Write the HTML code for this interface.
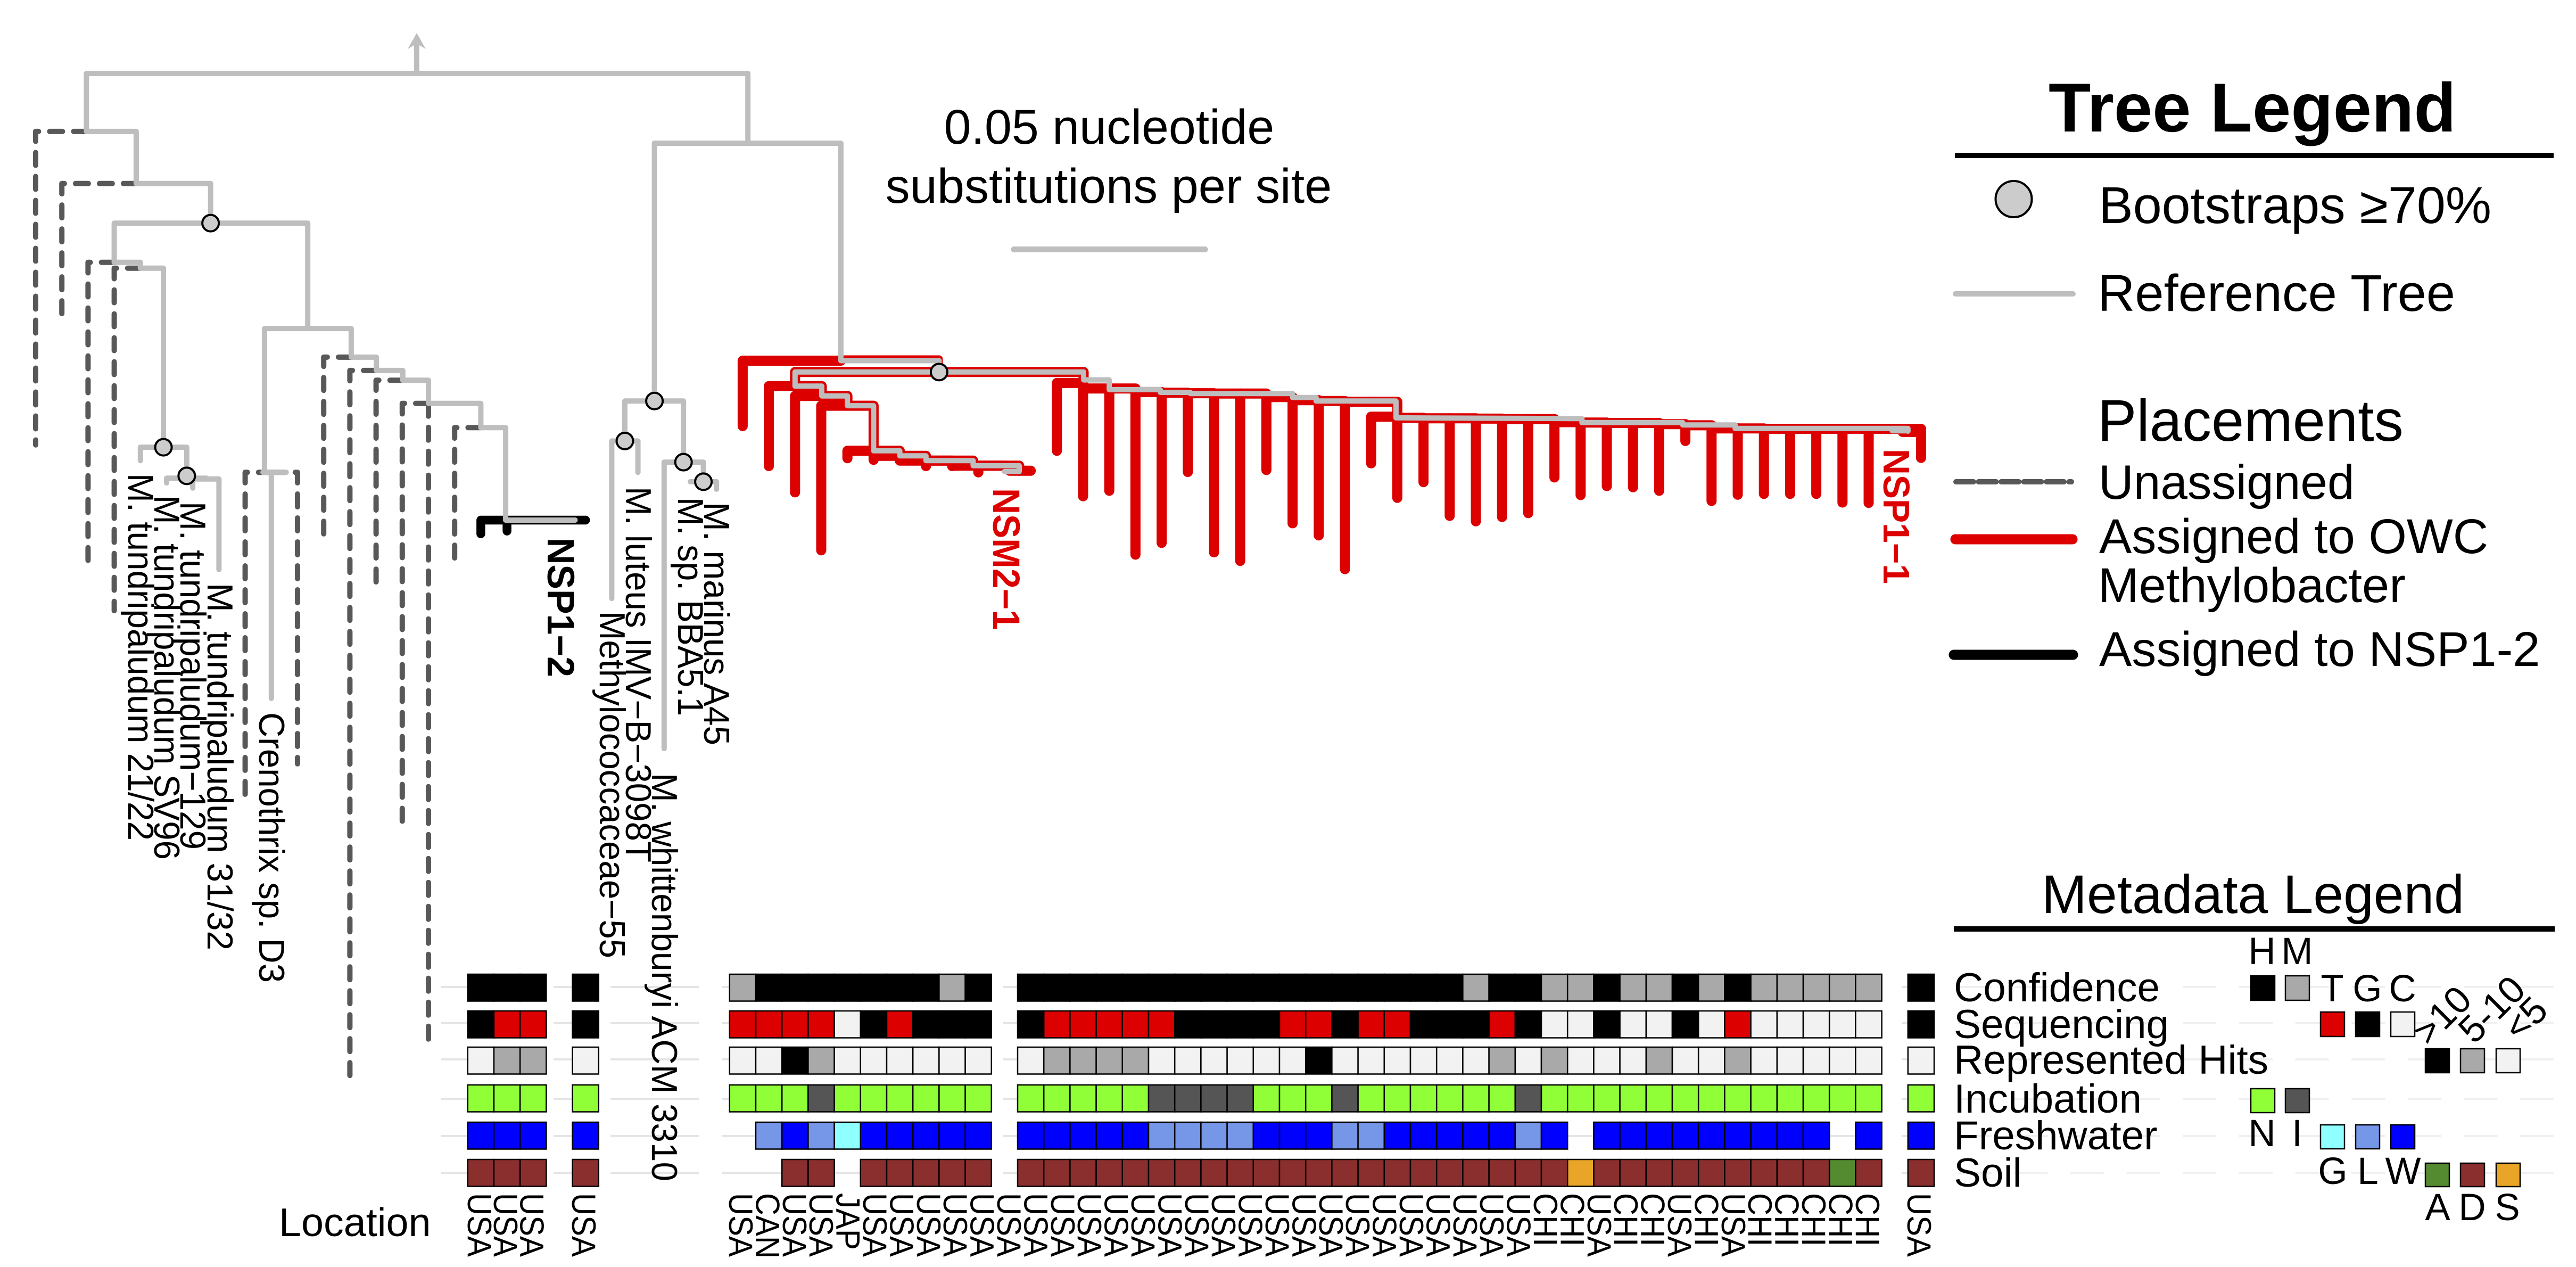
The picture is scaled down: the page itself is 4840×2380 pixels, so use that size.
<!DOCTYPE html>
<html lang="en">
<head>
<meta charset="utf-8">
<title>Phylogenetic placement tree with metadata</title>
<style>
html,body{margin:0;padding:0;background:#fff;width:4840px;height:2380px;overflow:hidden}
svg{display:block;font-family:"Liberation Sans",sans-serif}
text{fill:#000}
</style>
</head>
<body>
<svg id="chart" xmlns="http://www.w3.org/2000/svg" width="4840" height="2380" viewBox="0 0 4840 2380">
<rect x="0" y="0" width="4840" height="2380" fill="#ffffff"/>
<g id="grid-layer"></g>
<g id="tree-layer"></g>
<g id="meta-layer"></g>
<g id="location-layer"></g>

<g>
<text x="2084" y="270" font-size="91.5" text-anchor="middle">0.05 nucleotide</text>
<text x="2083" y="381" font-size="92" text-anchor="middle">substitutions per site</text>
<line x1="1905" y1="468.5" x2="2264" y2="468.5" stroke="#bebebe" stroke-width="11" stroke-linecap="round"/>
</g>

<g font-size="68">
<text transform="translate(241,889) rotate(90)" textLength="690" lengthAdjust="spacingAndGlyphs">M. tundripaludum 21/22</text>
<text transform="translate(290,930) rotate(90)" textLength="685" lengthAdjust="spacingAndGlyphs">M. tundripaludum SV96</text>
<text transform="translate(339,942) rotate(90)" textLength="654" lengthAdjust="spacingAndGlyphs">M. tundripaludum−129</text>
<text transform="translate(390,1095) rotate(90)" textLength="690" lengthAdjust="spacingAndGlyphs">M. tundripaludum 31/32</text>
<text transform="translate(487,1338) rotate(90)" textLength="508" lengthAdjust="spacingAndGlyphs">Crenothrix sp. D3</text>
<text transform="translate(1127,1148) rotate(90)" textLength="652" lengthAdjust="spacingAndGlyphs">Methylococcaceae−55</text>
<text transform="translate(1176,914) rotate(90)" textLength="706" lengthAdjust="spacingAndGlyphs">M. luteus IMV−B−3098T</text>
<text transform="translate(1225,1452) rotate(90)" textLength="767" lengthAdjust="spacingAndGlyphs">M. whittenburyi ACM 3310</text>
<text transform="translate(1274,934) rotate(90)" textLength="411" lengthAdjust="spacingAndGlyphs">M. sp. BBA5.1</text>
<text transform="translate(1323,943) rotate(90)" textLength="457" lengthAdjust="spacingAndGlyphs">M. marinus A45</text>
<text transform="translate(1029,1010) rotate(90)" font-size="71" font-weight="bold" textLength="262" lengthAdjust="spacingAndGlyphs">NSP1−2</text>
<text transform="translate(1866,917) rotate(90)" font-size="71" font-weight="bold" textLength="266" lengthAdjust="spacingAndGlyphs" style="fill:#dc0000">NSM2−1</text>
<text transform="translate(3539,843) rotate(90)" font-size="70" font-weight="bold" textLength="254" lengthAdjust="spacingAndGlyphs" style="fill:#dc0000">NSP1−1</text>
</g>

<text x="524" y="2322" font-size="75.5">Location</text>

<g font-size="76.5">
<text x="3671" y="1881">Confidence</text>
<text x="3671" y="1950">Sequencing</text>
<text x="3671" y="2017">Represented Hits</text>
<text x="3671" y="2090">Incubation</text>
<text x="3671" y="2159">Freshwater</text>
<text x="3671" y="2229">Soil</text>
</g>

<g>
<text x="3849" y="247" font-size="130" font-weight="bold">Tree Legend</text>
<line x1="3673" y1="292" x2="4798" y2="292" stroke="#000" stroke-width="10"/>
<circle cx="3783.5" cy="374" r="34" fill="#cccccc" stroke="#000" stroke-width="4"/>
<text x="3943" y="419" font-size="97">Bootstraps ≥70%</text>
<line x1="3674" y1="552" x2="3895" y2="552" stroke="#bebebe" stroke-width="10" stroke-linecap="round"/>
<text x="3941" y="584" font-size="97.5">Reference Tree</text>
<text x="3941" y="828" font-size="110">Placements</text>
<line x1="3675" y1="905" x2="3892" y2="905" stroke="#585858" stroke-width="10" stroke-linecap="round" stroke-dasharray="33 9.5"/>
<text x="3943" y="937" font-size="91">Unassigned</text>
<line x1="3674" y1="1013" x2="3894" y2="1013" stroke="#dc0000" stroke-width="19" stroke-linecap="round"/>
<text x="3944" y="1039" font-size="92">Assigned to OWC</text>
<text x="3942" y="1131" font-size="92">Methylobacter</text>
<line x1="3671" y1="1230" x2="3895" y2="1230" stroke="#000" stroke-width="19" stroke-linecap="round"/>
<text x="3944" y="1251" font-size="92">Assigned to NSP1-2</text>
</g>

<g>
<text x="3836" y="1715" font-size="102">Metadata Legend</text>
<rect x="3671" y="1740" width="1129" height="10" fill="#000"/>
<g stroke="#000" stroke-width="2.5">
<rect x="4229" y="1833" width="45" height="46" fill="#000000"/>
<rect x="4294" y="1833" width="45" height="46" fill="#a9a9a9"/>
<rect x="4360" y="1901" width="45" height="46" fill="#dc0000"/>
<rect x="4426" y="1901" width="45" height="46" fill="#000000"/>
<rect x="4492" y="1901" width="45" height="46" fill="#f2f2f2"/>
<rect x="4557" y="1970" width="45" height="45" fill="#000000"/>
<rect x="4623" y="1970" width="45" height="45" fill="#a9a9a9"/>
<rect x="4690" y="1970" width="45" height="45" fill="#f2f2f2"/>
<rect x="4229" y="2045" width="45" height="45" fill="#90ff38"/>
<rect x="4294" y="2045" width="45" height="45" fill="#555555"/>
<rect x="4360" y="2113" width="45" height="45" fill="#8fffff"/>
<rect x="4426" y="2113" width="45" height="45" fill="#7696e8"/>
<rect x="4492" y="2113" width="45" height="45" fill="#0000ff"/>
<rect x="4557" y="2185" width="45" height="44" fill="#548a30"/>
<rect x="4623" y="2185" width="45" height="44" fill="#8b2e2e"/>
<rect x="4690" y="2185" width="45" height="44" fill="#e8a528"/>
</g>
<g font-size="71" text-anchor="middle">
<text x="4250" y="1811">H</text>
<text x="4316" y="1811">M</text>
<text x="4382" y="1881">T</text>
<text x="4448" y="1881">G</text>
<text x="4514" y="1881">C</text>
<text x="4250" y="2153">N</text>
<text x="4316" y="2153">I</text>
<text x="4383" y="2224">G</text>
<text x="4449" y="2224">L</text>
<text x="4515" y="2224">W</text>
<text x="4580" y="2292">A</text>
<text x="4645" y="2292">D</text>
<text x="4711" y="2292">S</text>
<text transform="translate(4648,1882) rotate(-45)" text-anchor="end">&gt;10</text>
<text transform="translate(4749,1863) rotate(-45)" text-anchor="end">5-10</text>
<text transform="translate(4791,1902) rotate(-45)" text-anchor="end">&lt;5</text>
</g>
</g>
</svg>

<script>
// ---- chart data (tip rank = position along the tip axis, depth = 0.001 substitutions/site from root) ----
const referenceBranches = [
  [1.94,14.8, 1.94,0, 27.2,0, 27.2,17.8],
  [1.94,14.8, 3.84,14.8, 3.84,28.1, 6.68,28.1, 6.68,38.2],
  [3,48.2, 3,38.2, 10.39,38.2, 10.39,65.1],
  [3,48.2, 4,48.2, 4,49.7, 4.88,49.7, 4.88,95.4],
  [4,98.8, 4,95.4, 5.77,95.4, 5.77,102.7],
  [5,104.5, 5,103.3, 6.52,103.3],
  [6,105.8, 6,103.5, 7,103.5, 7,126.6],
  [8.74,101.8, 8.74,65.1, 12.05,65.1, 12.05,72.4, 13.01,72.4, 13.01,75.8, 14.02,75.8, 14.02,78.3, 15,78.3, 15,84.2, 17,84.2, 17,90.4, 17.95,90.4, 17.95,114, 20.6,114],
  [8.68,101.8, 9.57,101.8],
  [9,101.8, 9,159.5],
  [23.63,83.6, 23.63,17.8, 30.75,17.8, 30.75,73.3, 34.5,73.3, 34.5,76.2],
  [22.5,93.8, 22.5,83.6, 24.74,83.6, 24.74,99.2],
  [22,134, 22,93.8, 23,93.8, 23,101.8],
  [24,172.3, 24,99.2, 25.5,99.2, 25.5,104.2],
  [25,104.2, 26,104.2, 26,106.1]
];
const unassignedBranches = [
  [1.94,14.8, 0,14.8, 0,94.8],
  [3.84,28.1, 1,28.1, 1,62.2],
  [3,48.2, 2,48.2, 2,124.7],
  [4,49.7, 3,49.7, 3,137.1],
  [9,101.8, 8,101.8, 8,185.1],
  [9,101.8, 10,101.8, 10,176.2],
  [12.05,72.4, 11,72.4, 11,117.5],
  [13.01,75.8, 12,75.8, 12,257.1],
  [14.02,78.3, 13,78.3, 13,131.1],
  [15,84.2, 14,84.2, 14,191.2],
  [15,84.2, 15,246.6],
  [17,90.4, 16,90.4, 16,123.8]
];
const nspBranches = [
  [17,117.5, 17,114, 21,114],
  [18,116.8, 18,114]
];
const owcSpineBranches = [
  [27,90, 27,73.3, 30.75,73.3],
  [29,79.8, 29,76.2, 40.02,76.2, 40.02,78.2],
  [29,79.8, 30.02,79.8, 30.02,82.3, 31,82.3, 31,84.8, 32,84.8, 32,96.3, 33,96.3, 33,97.6, 34,97.6, 34,98.8, 35.8,98.8, 35.8,100.1, 37.56,100.1, 37.56,101.4],
  [37.2,101.4, 38,101.4],
  [51,83.8, 52,83.8, 52,87.9]
];
const owcTopEdge = [30.75,72.9, 34.5,72.9, 34.5,75.5];
const nsmTipRanks = [28,29,30,31,32,33,34,35,36];
const nsmTipDepths = [101.5,108.2,123.0,99.5,99.9,100.0,101.5,101.5,103.1];
const nsmTipAttach = [79.8,82.3,84.8,96.3,97.6,98.8,98.8,100.1,100.1];
const owcTipRanks = [39,40,41,42,43,44,45,46,47,48,49,50,51,52,53,54,55,56,57,58,59,60,61,62,63,64,65,66,67,68,69,70,72];
const owcTipDepths = [97.6,109.2,107.8,124.1,121.1,103.0,123.5,125.7,102.5,116.1,119.2,127.8,100.8,109.6,105.6,114.2,115.6,114.5,113.5,104.4,108.9,106.6,106.9,107.8,95.1,110.4,108.8,108.6,108.6,108.6,110.8,110.9,99.4];
const owcTipAttach = [79.0,80.4,80.4,81.3,81.5,81.6,81.7,81.7,82.6,83.4,83.6,83.8,87.6,87.9,88.0,88.0,88.1,88.2,88.2,89.0,89.1,89.2,89.2,89.5,89.8,90.6,90.6,90.7,90.7,90.7,90.7,90.7,91.5];
const referenceOverlay = [
  [29,79.8, 30.02,79.8, 30.02,82.3, 31,82.3, 31,84.8, 32,84.8, 32,96.3, 33,96.3, 33,97.6, 34,97.6, 34,98.8, 35.8,98.8, 35.8,100.1, 37.56,100.1, 37.56,101.4],
  [37,101.6, 37.56,101.6],
  [29,79.8, 29,76.2, 40.02,76.2, 40.02,78.2, 41,78.2, 41,80.7, 42.95,80.7, 42.95,81.4, 44.1,81.4, 44.1,81.7, 48,81.7, 48,82.7, 48.9,82.7, 48.9,83.6, 51.95,83.6, 51.95,87.9, 59.05,88.1, 59.05,89.1, 62.9,89.1, 62.9,89.7, 64.9,89.7, 64.9,90.6, 71.5,90.6, 71.5,91.3],
  [70.9,91.2, 71.5,91.2],
  [17.95,114, 20.6,114]
];
const bootstrapRanks = [6.68,4.88,5.77,23.63,22.5,24.74,25.5,34.5];
const bootstrapDepths = [38.2,95.4,102.7,83.6,93.8,99.2,104.2,76.2];

const metadataRanks = [17,18,19,21,27,28,29,30,31,32,33,34,35,36,38,39,40,41,42,43,44,45,46,47,48,49,50,51,52,53,54,55,56,57,58,59,60,61,62,63,64,65,66,67,68,69,70,72];
const confidenceValues = ['H','H','H','H','M','H','H','H','H','H','H','H','M','H','H','H','H','H','H','H','H','H','H','H','H','H','H','H','H','H','H','M','H','H','M','M','H','M','M','H','M','H','M','M','M','M','M','H'];
const sequencingValues = ['G','T','T','G','T','T','T','T','C','G','T','G','G','G','G','T','T','T','T','T','G','G','G','G','T','T','G','T','T','G','G','G','T','G','C','C','G','C','C','G','C','T','C','C','C','C','C','G'];
const hitsValues = ['S','M','M','S','S','S','H','M','S','S','S','S','S','S','S','M','M','M','M','S','S','S','S','S','S','H','S','S','S','S','S','S','M','S','M','S','S','S','M','S','S','M','S','S','S','S','S','S'];
const incubationValues = ['N','N','N','N','N','N','N','I','N','N','N','N','N','N','N','N','N','N','N','I','I','I','I','N','N','N','I','N','N','N','N','N','N','I','N','N','N','N','N','N','N','N','N','N','N','N','N','N'];
const freshwaterValues = ['W','W','W','W','','L','W','L','G','W','W','W','W','W','W','W','W','W','W','L','L','L','L','W','W','W','L','L','W','W','W','W','W','L','W','','W','W','W','W','W','W','W','W','W','','W','W'];
const soilValues = ['D','D','D','D','','','D','D','','D','D','D','D','D','D','D','D','D','D','D','D','D','D','D','D','D','D','D','D','D','D','D','D','D','D','S','D','D','D','D','D','D','D','D','D','A','D','D'];

const locationGroupA = ['USA','USA','USA'];
const locationGroupB = ['USA'];
const locationGroupC = ['USA','CAN','USA','USA','JAP','USA','USA','USA','USA','USA','USA','USA','USA','USA','USA','USA','USA','USA','USA','USA','USA','USA','USA','USA','USA','USA','USA','USA','USA','USA','CHI','CHI','USA','CHI','CHI','USA','CHI','USA','CHI','CHI','CHI','CHI','CHI'];
const locationGroupD = ['USA'];

// ---- colour scales ----
const confidenceColors = {H:'#000000', M:'#a9a9a9'};
const sequencingColors = {T:'#dc0000', G:'#000000', C:'#f2f2f2'};
const hitsColors = {H:'#000000', M:'#a9a9a9', S:'#f2f2f2'};
const incubationColors = {N:'#90ff38', I:'#555555'};
const freshwaterColors = {G:'#8fffff', L:'#7696e8', W:'#0000ff'};
const soilColors = {A:'#548a30', D:'#8b2e2e', S:'#e8a528'};

// ---- axis functions ----
const SVGNS = 'http://www.w3.org/2000/svg';
const CELL = 49.2;
function xTip(rank) { return 67 + CELL * rank; }
function yDepth(depth) { return 138 + 7.36 * depth; }
function pathFrom(flat) {
  let d = '';
  for (let i = 0; i < flat.length; i += 2) {
    d += (i ? 'L' : 'M') + xTip(flat[i]).toFixed(1) + ' ' + yDepth(flat[i + 1]).toFixed(1);
  }
  return d;
}
function makeBranch(parent, flat, color, width, dash) {
  const el = document.createElementNS(SVGNS, 'path');
  el.setAttribute('d', pathFrom(flat));
  el.setAttribute('fill', 'none');
  el.setAttribute('stroke', color);
  el.setAttribute('stroke-width', width);
  el.setAttribute('stroke-linecap', 'round');
  el.setAttribute('stroke-linejoin', 'round');
  if (dash) el.setAttribute('stroke-dasharray', dash);
  parent.appendChild(el);
  return el;
}

// ---- grid lines behind metadata ----
const gridLayer = document.getElementById('grid-layer');
function rowCenter(row) { return [1854, 1922, 1990, 2064, 2134, 2203.5][row]; }
function rowTop(row) { return [1830, 1899, 1967, 2038, 2108, 2178][row]; }
const ROW_H = 50.5;
for (let row = 0; row < 6; row++) {
  [[829,1027],[1040,1125],[1147,1314],[1357,1863],[1885,3536],[3573,3635]].forEach(function (span) {
    const el = document.createElementNS(SVGNS, 'line');
    el.setAttribute('x1', span[0]);
    el.setAttribute('x2', span[1]);
    el.setAttribute('y1', rowCenter(row));
    el.setAttribute('y2', rowCenter(row));
    el.setAttribute('stroke', '#e5e5e5');
    el.setAttribute('stroke-width', 4);
    
    
    gridLayer.appendChild(el);
  });
  for (let k = 0; k < 11; k++) {
    const el = document.createElementNS(SVGNS, 'line');
    el.setAttribute('x1', 3679 + 105.6 * k);
    el.setAttribute('x2', 3742 + 105.6 * k);
    el.setAttribute('y1', rowCenter(row));
    el.setAttribute('y2', rowCenter(row));
    el.setAttribute('stroke', '#f0f0f0');
    el.setAttribute('stroke-width', 4);
    
    
    gridLayer.appendChild(el);
  }
}

// ---- tree ----
const treeLayer = document.getElementById('tree-layer');

const arrowShaft = document.createElementNS(SVGNS, 'line');
arrowShaft.setAttribute('x1', xTip(14.55));
arrowShaft.setAttribute('x2', xTip(14.55));
arrowShaft.setAttribute('y1', yDepth(0));
arrowShaft.setAttribute('y2', yDepth(-7.5));
arrowShaft.setAttribute('stroke', '#bebebe');
arrowShaft.setAttribute('stroke-width', 10);


treeLayer.appendChild(arrowShaft);

const arrowHead = document.createElementNS(SVGNS, 'polygon');
arrowHead.setAttribute('points', '783,62 800,92 783,82 766,92');
arrowHead.setAttribute('fill', '#bebebe');


treeLayer.appendChild(arrowHead);

unassignedBranches.forEach(function (flat) {
  const el = makeBranch(treeLayer, flat, '#585858', 10, '24 21');
  
  
});
nspBranches.forEach(function (flat) {
  const el = makeBranch(treeLayer, flat, '#000000', 16.5);
  
  
});

// red placements: thin top edge, spines, then tips
const topEdge = makeBranch(treeLayer, owcTopEdge, '#dc0000', 14);


owcSpineBranches.forEach(function (flat) {
  const el = makeBranch(treeLayer, flat, '#dc0000', 19);
  
  
});
const CAP_DEPTH = 9.5 / 7.36;
nsmTipRanks.forEach(function (rank, i) {
  const flat = [rank, nsmTipDepths[i] - CAP_DEPTH, rank, nsmTipAttach[i], rank + 1, nsmTipAttach[i]];
  const el = makeBranch(treeLayer, flat, '#dc0000', 19);
  
  
});
owcTipRanks.forEach(function (rank, i) {
  const flat = [rank, owcTipDepths[i] - CAP_DEPTH, rank, owcTipAttach[i]];
  if (i < owcTipRanks.length - 1) {
    flat.push(owcTipRanks[i + 1], owcTipAttach[i]);
  }
  const el = makeBranch(treeLayer, flat, '#dc0000', 19);
  
  
});
// tip 72 reaches back toward the spine
const lastTip = makeBranch(treeLayer, [71.3, owcTipAttach[owcTipAttach.length - 1], 72, owcTipAttach[owcTipAttach.length - 1]], '#dc0000', 19);



referenceBranches.forEach(function (flat) {
  const el = makeBranch(treeLayer, flat, '#bebebe', 10);
  
  
});
referenceOverlay.forEach(function (flat) {
  const el = makeBranch(treeLayer, flat, '#bebebe', 10);
  
  
});
bootstrapRanks.forEach(function (rank, i) {
  const el = document.createElementNS(SVGNS, 'circle');
  el.setAttribute('cx', xTip(rank));
  el.setAttribute('cy', yDepth(bootstrapDepths[i]));
  el.setAttribute('r', 15.5);
  el.setAttribute('fill', '#cccccc');
  el.setAttribute('stroke', '#000000');
  el.setAttribute('stroke-width', 4);
  
  
  treeLayer.appendChild(el);
});

// ---- metadata heatmap ----
const metaLayer = document.getElementById('meta-layer');
function drawRow(row, values, colors, rowName) {
  values.forEach(function (value, i) {
    if (!value) return;
    const el = document.createElementNS(SVGNS, 'rect');
    el.setAttribute('x', xTip(metadataRanks[i]) - CELL / 2);
    el.setAttribute('y', rowTop(row));
    el.setAttribute('width', CELL);
    el.setAttribute('height', ROW_H);
    el.setAttribute('fill', colors[value]);
    el.setAttribute('stroke', '#000000');
    el.setAttribute('stroke-width', 2.5);
    
    
    metaLayer.appendChild(el);
  });
}
drawRow(0, confidenceValues, confidenceColors, 'confidence');
drawRow(1, sequencingValues, sequencingColors, 'sequencing');
drawRow(2, hitsValues, hitsColors, 'represented-hits');
drawRow(3, incubationValues, incubationColors, 'incubation');
drawRow(4, freshwaterValues, freshwaterColors, 'freshwater');
drawRow(5, soilValues, soilColors, 'soil');

// ---- location labels ----
const locationLayer = document.getElementById('location-layer');
function drawLocations(values, startX, step) {
  values.forEach(function (value, i) {
    const el = document.createElementNS(SVGNS, 'text');
    el.setAttribute('transform', 'translate(' + (startX + step * i) + ',2241) rotate(90) scale(0.925,1)');
    el.setAttribute('font-size', 63);
    el.textContent = value;
    
    
    locationLayer.appendChild(el);
  });
}
drawLocations(locationGroupA, 879, 49.2);
drawLocations(locationGroupB, 1075, 49.2);
drawLocations(locationGroupC, 1370, 50.4);
drawLocations(locationGroupD, 3584, 49.2);
</script>
</body>
</html>
